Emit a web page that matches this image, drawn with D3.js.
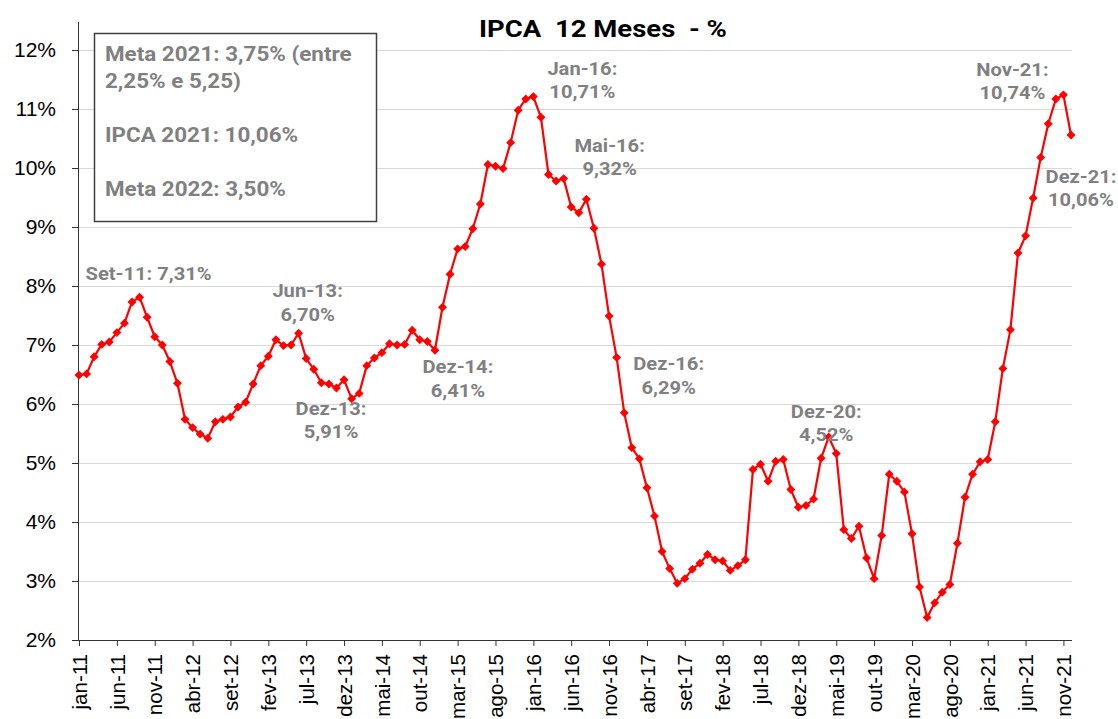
<!DOCTYPE html>
<html>
<head>
<meta charset="utf-8">
<script src="https://cdn.jsdelivr.net/npm/d3@7"></script>
<style>
  html, body { margin: 0; padding: 0; background: #fff; }
  svg { display: block; }
</style>
</head>
<body>
<svg id="chart" width="1118" height="719"></svg>
<script>
// ---------- DATA ----------
const years = ["11","12","13","14","15","16","17","18","19","20","21"];
const monthNames = ["jan","fev","mar","abr","mai","jun","jul","ago","set","out","nov","dez"];

// IPCA 12 meses series as plotted, jan-11 .. dez-21
const values = [
  6.49, 6.51, 6.80, 7.01, 7.05, 7.21, 7.37, 7.73, 7.81, 7.47, 7.14, 7.00,
  6.72, 6.35, 5.74, 5.60, 5.49, 5.42, 5.70, 5.74, 5.78, 5.95, 6.03, 6.34,
  6.65, 6.81, 7.09, 6.99, 7.00, 7.20, 6.77, 6.59, 6.36, 6.34, 6.27, 6.41,
  6.09, 6.18, 6.65, 6.78, 6.87, 7.02, 7.00, 7.01, 7.25, 7.09, 7.06, 6.91,
  7.64, 8.20, 8.63, 8.67, 8.97, 9.39, 10.06, 10.03, 9.99, 10.43, 10.98, 11.17,
  11.21, 10.86, 9.89, 9.78, 9.82, 9.34, 9.24, 9.47, 8.98, 8.37, 7.49, 6.79,
  5.85, 5.26, 5.07, 4.58, 4.10, 3.50, 3.21, 2.96, 3.04, 3.20, 3.30, 3.45,
  3.36, 3.34, 3.18, 3.26, 3.36, 4.89, 4.98, 4.69, 5.03, 5.06, 4.55, 4.25,
  4.28, 4.39, 5.08, 5.44, 5.16, 3.87, 3.72, 3.93, 3.39, 3.04, 3.77, 4.81,
  4.69, 4.51, 3.80, 2.90, 2.38, 2.63, 2.81, 2.94, 3.64, 4.42, 4.81, 5.02,
  5.06, 5.70, 6.60, 7.26, 8.56, 8.85, 9.49, 10.18, 10.75, 11.17, 11.24, 10.56
];

const categories = [];
years.forEach(y => monthNames.forEach(m => categories.push(m + "-" + y)));

const tickLabels = ["jan-11","jun-11","nov-11","abr-12","set-12","fev-13","jul-13","dez-13",
  "mai-14","out-14","mar-15","ago-15","jan-16","jun-16","nov-16","abr-17","set-17","fev-18",
  "jul-18","dez-18","mai-19","out-19","mar-20","ago-20","jan-21","jun-21","nov-21"];

const yTicks = [2,3,4,5,6,7,8,9,10,11,12];

const title = "IPCA  12 Meses  - %";

// annotation texts and the point (category) each is attached to
const annotTexts = [
  ["Set-11: 7,31%"],
  ["Jun-13:", "6,70%"],
  ["Dez-13:", "5,91%"],
  ["Dez-14:", "6,41%"],
  ["Jan-16:", "10,71%"],
  ["Mai-16:", "9,32%"],
  ["Dez-16:", "6,29%"],
  ["Dez-20:", "4,52%"],
  ["Nov-21:", "10,74%"],
  ["Dez-21:", "10,06%"]
];
const annotAnchors = ["set-11","jun-13","dez-13","dez-14","jan-16","mai-16","dez-16","mai-19","nov-21","dez-21"];

const boxLines = ["Meta 2021: 3,75% (entre", "2,25% e 5,25)", "IPCA 2021: 10,06%", "Meta 2022: 3,50%"];

// ---------- LAYOUT ----------
const annotOffsets = [[9,-17],[9,-36],[-13,35],[23,23],[49,-22],[46,-27],[52,13],[-10,-36],[-51,-19],[10,48]];
const boxLineY = [61, 88, 142, 196];
const plot = {left: 79, right: 1071, top: 50, bottom: 640};

const svg = d3.select("#chart");
const x = d3.scaleLinear().domain([0, values.length - 1]).range([plot.left, plot.right]);
const y = d3.scaleLinear().domain([2, 12]).range([plot.bottom, plot.top]);
const labelFont = "Roboto, 'Liberation Sans', Arial, sans-serif";
const axisFont = "'Liberation Sans', Arial, sans-serif";
const stretch = 1.15;

// gridlines
svg.append("g").selectAll("line").data(yTicks.slice(1)).join("line")
  .attr("x1", plot.left).attr("x2", plot.right + 1)
  .attr("y1", d => Math.round(y(d)) + 0.5).attr("y2", d => Math.round(y(d)) + 0.5)
  .attr("stroke", "#d9d9d9").attr("stroke-width", 1);

// y axis
const yAxis = d3.axisLeft(y).tickValues(yTicks).tickSize(7).tickPadding(16)
  .tickFormat(d => d + "%");
const gy = svg.append("g").attr("transform", `translate(${plot.left},0)`).call(yAxis);
gy.select(".domain").attr("d", `M-0.5,${plot.top - 28}V${plot.bottom}`).attr("stroke", "#333");
gy.selectAll(".tick line").attr("stroke", "#333");
gy.selectAll(".tick text").attr("font-family", axisFont).attr("font-size", 21).attr("fill", "#000");

// x axis
const tickIdx = tickLabels.map(t => categories.indexOf(t));
const xAxis = d3.axisBottom(x).tickValues(tickIdx).tickSize(6).tickFormat(d => categories[d]);
const gx = svg.append("g").attr("transform", `translate(0,${plot.bottom})`).call(xAxis);
gx.select(".domain").attr("d", `M${plot.left - 7},0.5H${plot.right + 1}`).attr("stroke", "#333");
gx.selectAll(".tick line").attr("stroke", "#333");
gx.selectAll(".tick text")
  .attr("font-family", axisFont).attr("font-size", 20.5).attr("fill", "#000")
  .attr("text-anchor", "end")
  .attr("transform", "rotate(-90)")
  .attr("x", -14).attr("y", 0).attr("dy", "0.35em");

// line
const line = d3.line().x((d, i) => x(i)).y(d => y(d));
svg.append("path").datum(values)
  .attr("d", line).attr("fill", "none").attr("stroke", "#ff0000")
  .attr("stroke-width", 2.2).attr("stroke-linejoin", "round");

// markers
const sym = d3.symbol().type(d3.symbolSquare).size(28);
svg.append("g").selectAll("path").data(values).join("path")
  .attr("d", sym)
  .attr("transform", (d, i) => `translate(${x(i)},${y(d)}) rotate(45)`)
  .attr("fill", "#ff0000").attr("stroke", "#ff0000").attr("stroke-width", 1);

// title
svg.append("text")
  .attr("transform", `translate(603,37) scale(1.17,1)`)
  .attr("text-anchor", "middle")
  .attr("font-family", labelFont).attr("font-weight", "bold").attr("font-size", 23.5)
  .attr("fill", "#000").style("white-space", "pre")
  .text(title);

// annotations
annotTexts.forEach((lines, k) => {
  const idx = categories.indexOf(annotAnchors[k]);
  const cx = x(idx) + annotOffsets[k][0];
  const cy = y(values[idx]) + annotOffsets[k][1];
  const t = svg.append("text")
    .attr("transform", `translate(${cx},${cy}) scale(${stretch},1)`)
    .attr("text-anchor", "middle")
    .attr("font-family", labelFont).attr("font-weight", "bold").attr("font-size", 17.5)
    .attr("fill", "#808080");
  lines.forEach((s, j) => t.append("tspan").attr("x", 0).attr("y", j * 23.5).text(s));
});

// text box
svg.append("rect").attr("x", 94.5).attr("y", 33.5).attr("width", 282).attr("height", 188)
  .attr("fill", "#fff").attr("stroke", "#404040").attr("stroke-width", 1.5);
boxLines.forEach((s, j) => {
  svg.append("text")
    .attr("transform", `translate(105,${boxLineY[j]}) scale(${stretch},1)`)
    .attr("font-family", labelFont).attr("font-weight", "bold").attr("font-size", 19.5)
    .attr("fill", "#808080").text(s);
});
</script>
</body>
</html>
